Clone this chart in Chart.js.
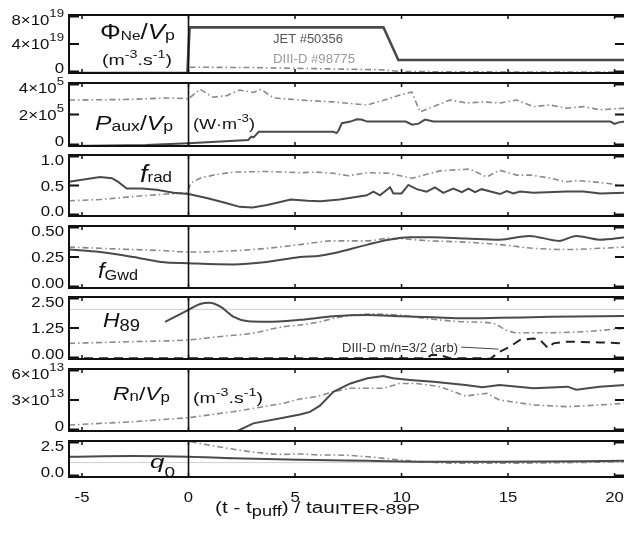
<!DOCTYPE html>
<html><head><meta charset="utf-8">
<script src="https://cdn.jsdelivr.net/npm/chart.js@4.4.0/dist/chart.umd.min.js"></script>
<style>
html,body{margin:0;padding:0;background:#fff;overflow:hidden;width:624px;height:540px;position:relative}
canvas{position:absolute;left:0}
</style></head><body>
<script>
// ================= DATA =================
const xTickValues = [-5, 0, 5, 10, 15, 20];
const xTickLabels = ['-5', '0', '5', '10', '15', '20'];

// Panel 1: Phi_Ne / Vp
const phiTicks = [0, 4e19, 8e19];
const phiTickLabels = ['0', '4×10^19', '8×10^19'];
const tPhiJet = [-5.61, -0.05, 0.05, 9.15, 9.85, 20.5];
const phiJet  = [0, 0, 6.3e19, 6.3e19, 1.8e19, 1.8e19];
const tPhiD3  = [0.05, 3, 6, 9, 10, 14, 20.5];
const phiD3   = [0.8e19, 0.75e19, 0.6e19, 0.45e19, 0.2e19, 0.15e19, 0.12e19];

// Panel 2: Paux / Vp
const pauxTicks = [0, 2e5, 4e5];
const pauxTickLabels = ['0', '2×10^5', '4×10^5'];
const tPauxJet = [-5.61, -2.0, 0, 2.8, 2.95, 3.05, 3.3, 6.8, 6.95, 7.05, 7.2, 7.6, 7.9, 8.1, 8.4, 10.2, 10.5, 10.8, 11.1, 11.5, 12, 19.8, 20.0, 20.2, 20.5];
const pauxJet  = [0.0, 0.07e5, 0.17e5, 0.38e5, 0.6e5, 0.55e5, 0.9e5, 0.9e5, 0.82e5, 1.0e5, 1.45e5, 1.55e5, 1.7e5, 1.68e5, 1.55e5, 1.55e5, 1.35e5, 1.42e5, 1.68e5, 1.55e5, 1.55e5, 1.55e5, 1.4e5, 1.5e5, 1.55e5];
const tPauxD3 = [-5.61, -3, -1, 0, 0.54, 1.16, 1.8, 2.4, 3.04, 3.4, 3.67, 4.0, 5.23, 6.8, 8.37, 9.15, 9.93, 10.48, 10.87, 11.49, 12.28, 13.06, 13.84, 14.62, 15.41, 16.19, 16.97, 17.76, 18.54, 19.32, 20.5];
const pauxD3  = [2.92e5, 2.95e5, 3.05e5, 3.0e5, 3.6e5, 3.1e5, 3.2e5, 3.55e5, 3.4e5, 3.6e5, 3.35e5, 3.05e5, 2.92e5, 2.8e5, 2.6e5, 2.9e5, 3.24e5, 3.43e5, 2.16e5, 2.5e5, 2.92e5, 2.73e5, 2.8e5, 2.73e5, 2.92e5, 2.5e5, 2.6e5, 2.4e5, 2.5e5, 2.3e5, 2.4e5];

// Panel 3: f_rad
const fradTicks = [0, 0.5, 1.0];
const fradTickLabels = ['0.0', '0.5', '1.0'];
const tFradJet = [-5.61, -4.15, -3.6, -3.3, -2.9, -2.2, -1.5, -0.7, 0, 0.9, 1.8, 2.4, 3.0, 3.7, 4.8, 5.6, 6.2, 7.1, 8.37, 8.68, 8.99, 9.46, 9.62, 10.0, 10.32, 10.71, 11.18, 11.57, 11.96, 12.43, 12.83, 13.14, 13.45, 13.76, 14.62, 14.94, 15.25, 15.56, 16.19, 17.76, 18.54, 19.32, 20.5];
const fradJet  = [0.56, 0.64, 0.62, 0.56, 0.45, 0.45, 0.43, 0.38, 0.36, 0.29, 0.21, 0.15, 0.14, 0.18, 0.27, 0.25, 0.24, 0.27, 0.34, 0.40, 0.34, 0.47, 0.37, 0.37, 0.51, 0.44, 0.40, 0.47, 0.38, 0.45, 0.39, 0.45, 0.39, 0.44, 0.36, 0.41, 0.37, 0.40, 0.38, 0.40, 0.40, 0.37, 0.38];
const tFradD3 = [-5.61, -4.15, -2.59, -1.02, -0.05, 0.1, 0.54, 1.16, 2.1, 3.67, 5.23, 6.0, 6.8, 7.5, 8.4, 9.4, 10.5, 11.8, 13.2, 14.0, 14.6, 15.4, 16.1, 17.0, 17.7, 18.3, 19.3, 20.2];
const fradD3  = [0.25, 0.27, 0.32, 0.36, 0.38, 0.54, 0.62, 0.67, 0.72, 0.73, 0.71, 0.72, 0.70, 0.66, 0.71, 0.70, 0.62, 0.74, 0.77, 0.64, 0.75, 0.67, 0.67, 0.62, 0.56, 0.58, 0.55, 0.51];

// Panel 4: f_Gwd
const fgwTicks = [0, 0.25, 0.5];
const fgwTickLabels = ['0.00', '0.25', '0.50'];
const tFgwJet = [-5.61, -4.15, -2.59, -1.3, 0, 2.1, 3.67, 5.23, 6.17, 6.8, 8.4, 9.4, 10.4, 11.4, 13.0, 14.6, 16.0, 17.4, 18.2, 19.3, 20.5];
const fgwJet  = [0.31, 0.29, 0.25, 0.21, 0.20, 0.19, 0.21, 0.25, 0.26, 0.28, 0.35, 0.39, 0.41, 0.41, 0.40, 0.39, 0.42, 0.38, 0.42, 0.39, 0.41];
const tFgwD3  = [-5.61, -4.15, -2.59, -1.02, 0, 2.1, 3.67, 5.23, 6.8, 8.4, 9.4, 11.4, 13.0, 14.6, 16.2, 17.8, 19.3, 20.5];
const fgwD3   = [0.33, 0.32, 0.31, 0.30, 0.29, 0.30, 0.32, 0.35, 0.38, 0.38, 0.40, 0.38, 0.37, 0.35, 0.32, 0.31, 0.32, 0.33];

// Panel 5: H89
const h89Ticks = [0, 1.25, 2.5];
const h89TickLabels = ['0.00', '1.25', '2.50'];
const tH89Jet = [-1.1, 0, 0.54, 1.0, 1.5, 2.1, 2.8, 3.67, 5.23, 6.8, 8.4, 10.0, 11.5, 13.0, 14.6, 17.0, 20.5];
const h89Jet  = [1.50, 1.98, 2.22, 2.27, 2.11, 1.71, 1.52, 1.50, 1.58, 1.72, 1.77, 1.72, 1.68, 1.64, 1.66, 1.70, 1.73];
const tH89D3  = [-5.61, -2.59, 0, 1.4, 3.0, 4.45, 5.23, 6.17, 6.8, 8.4, 9.9, 11.5, 13.0, 14.3, 14.9, 15.4, 16.9, 18.5, 20.5];
const h89D3   = [0.63, 0.70, 0.77, 0.90, 1.04, 1.30, 1.37, 1.50, 1.64, 1.81, 1.77, 1.60, 1.50, 1.44, 1.17, 1.06, 1.06, 1.10, 1.24];
const tMode   = [-5.61, 11.18, 11.4, 11.8, 12.28, 14.0, 14.15, 14.62, 15.09, 15.56, 16.19, 16.5, 16.89, 17.13, 17.76, 19.3, 20.5];
const modeD3  = [0.03, 0.03, 0.16, 0.16, 0.03, 0.03, 0.0, 0.30, 0.50, 0.77, 0.83, 0.77, 0.43, 0.63, 0.70, 0.67, 0.63];
const h89Ref  = 2.0;

// Panel 6: Rn / Vp
const rnTicks = [0, 3e13, 6e13];
const rnTickLabels = ['0', '3×10^13', '6×10^13'];
const tRnJet = [2.3, 3.04, 4.45, 5.23, 5.7, 6.17, 6.8, 7.6, 8.4, 9.15, 9.6, 10.4, 11.5, 13.0, 13.8, 14.6, 16.2, 17.8, 18.2, 19.3, 20.5];
const rnJet  = [0, 0.74e13, 1.29e13, 1.6e13, 1.85e13, 2.45e13, 3.8e13, 4.6e13, 5.1e13, 5.32e13, 5.1e13, 4.94e13, 4.77e13, 4.45e13, 4.23e13, 4.45e13, 4.13e13, 4.29e13, 4.0e13, 4.29e13, 4.45e13];
const tRnD3  = [-5.61, -2.59, 0, 2.1, 4.45, 5.23, 6.0, 6.8, 7.6, 9.15, 9.9, 10.7, 11.8, 13.0, 14.0, 14.6, 16.2, 17.8, 19.3, 20.5];
const rnD3   = [0.58e13, 0.9e13, 1.29e13, 1.87e13, 2.68e13, 3.1e13, 3.32e13, 3.8e13, 4.13e13, 4.13e13, 4.6e13, 4.6e13, 4.29e13, 3.39e13, 3.65e13, 3.0e13, 2.52e13, 2.35e13, 2.52e13, 2.68e13];

// Panel 7: q0
const q0Ticks = [0, 2.5];
const q0TickLabels = ['0.0', '2.5'];
const tQ0Jet = [-5.61, -2.59, 0, 2.1, 5.23, 8.4, 11.5, 14.6, 20.5];
const q0Jet  = [1.41, 1.46, 1.41, 1.30, 1.20, 1.13, 1.06, 1.06, 1.13];
const tQ0D3  = [0.1, 1.4, 2.9, 4.45, 5.23, 6.17, 6.8, 8.4, 9.9, 13.0, 16.2, 20.5];
const q0D3   = [2.45, 2.1, 1.76, 1.57, 1.6, 1.53, 1.53, 1.41, 1.18, 0.95, 0.97, 1.06];
const q0Ref  = 1.0;

// ================= LAYOUT / STYLE =================
const CW = 632, PLOT_L = 69, PLOT_R = 625, X_MIN = -5.61, X_MAX = 20.49;
const PAD = 22;
const FF = "'Liberation Sans', Arial, Helvetica, sans-serif";
const JET_C = '#4a4a4a', D3_C = '#8a8a8a';
const TICK_SX = 1.2;

const pts = (t, v) => t.map((x, i) => ({x, y: v[i]}));
const jetDs = (t, v, w, smooth) => ({data: pts(t, v), borderColor: JET_C, borderWidth: w || 2, pointRadius: 0, tension: 0, fill: false, cubicInterpolationMode: smooth ? 'monotone' : 'default'});
const d3Ds = (t, v, smooth) => ({data: pts(t, v), borderColor: D3_C, borderWidth: 1.6, borderDash: [6, 3, 1.5, 3], pointRadius: 0, tension: 0, fill: false, cubicInterpolationMode: smooth ? 'monotone' : 'default'});
const modeDs = (t, v) => ({data: pts(t, v), borderColor: '#222', borderWidth: 2, borderDash: [9, 6], pointRadius: 0, tension: 0, fill: false});

function fontOf(s) { return (s.i ? 'italic ' : '') + s.s + 'px ' + FF; }
function drawRich(ctx, x, y, segs, opt) {
  opt = opt || {};
  let nat = 0;
  segs.forEach(s => { ctx.font = fontOf(s); nat += ctx.measureText(s.t).width; });
  const sx = opt.w ? opt.w / nat : (opt.sx || 1);
  const total = nat * sx;
  let cx = opt.align === 'right' ? x - total : opt.align === 'center' ? x - total / 2 : x;
  segs.forEach(s => {
    ctx.save();
    ctx.font = fontOf(s);
    ctx.fillStyle = s.c || opt.c || '#111';
    ctx.textBaseline = 'alphabetic';
    ctx.textAlign = 'left';
    const w = ctx.measureText(s.t).width;
    ctx.translate(cx, y + (s.dy || 0));
    ctx.scale(sx, 1);
    ctx.fillText(s.t, 0, 0);
    ctx.restore();
    cx += w * sx;
  });
}
function tickSegs(label) {
  const p = label.split('^');
  const segs = [{t: p[0], s: 14}];
  if (p[1]) segs.push({t: p[1], s: 11, dy: -8});
  return segs;
}
const unitSegs = [{t: '(m', s: 15}, {t: '-3', s: 11, dy: -7}, {t: '.s', s: 15}, {t: '-1', s: 11, dy: -7}, {t: ')', s: 15}];

const panels = [
  {top: 15, bottom: 73, max: 8e19, ticks: phiTicks, labels: phiTickLabels,
   datasets: [jetDs(tPhiJet, phiJet, 2.6), d3Ds(tPhiD3, phiD3)],
   texts: [
     {x: 100, y: 39, w: 75, segs: [{t: 'Φ', s: 22}, {t: 'Ne', s: 13, dy: 1}, {t: '/', s: 22}, {t: 'V', s: 22, i: 1}, {t: 'p', s: 15, dy: 1}]},
     {x: 102, y: 65, w: 70, segs: unitSegs},
     {x: 273, y: 43, w: 70, c: '#555', segs: [{t: 'JET #50356', s: 12}]},
     {x: 273, y: 63, w: 82, c: '#9a9a9a', segs: [{t: 'DIII-D #98775', s: 12}]}
   ]},
  {top: 83, bottom: 146, max: 4e5, ticks: pauxTicks, labels: pauxTickLabels,
   datasets: [jetDs(tPauxJet, pauxJet), d3Ds(tPauxD3, pauxD3)],
   texts: [
     {x: 95, y: 130, w: 78, segs: [{t: 'P', s: 21, i: 1}, {t: 'aux', s: 15, dy: 1}, {t: '/', s: 21}, {t: 'V', s: 21, i: 1}, {t: 'p', s: 15, dy: 1}]},
     {x: 193, y: 129, w: 62, segs: [{t: '(W·m', s: 15}, {t: '-3', s: 11, dy: -7}, {t: ')', s: 15}]}
   ]},
  {top: 155, bottom: 216, max: 1.0, ticks: fradTicks, labels: fradTickLabels,
   datasets: [jetDs(tFradJet, fradJet), d3Ds(tFradD3, fradD3)],
   texts: [{x: 140, y: 182, w: 32, segs: [{t: 'f', s: 24, i: 1}, {t: 'rad', s: 15}]}]},
  {top: 226, bottom: 288, max: 0.5, ticks: fgwTicks, labels: fgwTickLabels,
   datasets: [jetDs(tFgwJet, fgwJet, 2, true), d3Ds(tFgwD3, fgwD3, true)],
   texts: [{x: 98, y: 278, w: 40, segs: [{t: 'f', s: 22, i: 1}, {t: 'Gwd', s: 15, dy: 2}]}]},
  {top: 297, bottom: 359, max: 2.5, ticks: h89Ticks, labels: h89TickLabels, ref: h89Ref,
   datasets: [jetDs(tH89Jet, h89Jet, 2, true), d3Ds(tH89D3, h89D3, true), modeDs(tMode, modeD3)],
   texts: [
     {x: 103, y: 327, w: 37, segs: [{t: 'H', s: 20, i: 1}, {t: '89', s: 16, dy: 4}]},
     {x: 342, y: 352, w: 116, c: '#333', segs: [{t: 'DIII-D m/n=3/2 (arb)', s: 12.5}]}
   ],
   leader: [[12.8, 0.48], [14.55, 0.40]]},
  {top: 369, bottom: 431, max: 6e13, ticks: rnTicks, labels: rnTickLabels,
   datasets: [jetDs(tRnJet, rnJet), d3Ds(tRnD3, rnD3)],
   texts: [
     {x: 113, y: 400, w: 57, segs: [{t: 'R', s: 19, i: 1}, {t: 'n', s: 14, dy: 1}, {t: '/', s: 19}, {t: 'V', s: 19, i: 1}, {t: 'p', s: 14, dy: 2}]},
     {x: 193, y: 403, w: 70, segs: unitSegs}
   ]},
  {top: 441, bottom: 477, max: 2.5, ticks: q0Ticks, labels: q0TickLabels, ref: q0Ref, last: true,
   datasets: [jetDs(tQ0Jet, q0Jet, 2, true), d3Ds(tQ0D3, q0D3, true)],
   texts: [{x: 150, y: 468, w: 25, segs: [{t: 'q', s: 19, i: 1}, {t: '0', s: 14, dy: 9}]}]}
];

function makePanel(p) {
  const cv = document.createElement('canvas');
  const padB = p.last ? (540 - p.bottom) : PAD;
  const h = (p.bottom - p.top) + PAD + padB;
  cv.width = CW; cv.height = h;
  cv.style.width = CW + 'px'; cv.style.height = h + 'px';
  cv.style.top = (p.top - PAD) + 'px';
  document.body.appendChild(cv);
  const deco = {
    id: 'deco',
    beforeDatasetsDraw(chart) {
      if (p.ref === undefined) return;
      const ctx = chart.ctx, a = chart.chartArea, ys = chart.scales.y;
      const py = ys.getPixelForValue(p.ref);
      ctx.save(); ctx.strokeStyle = '#cfcfcf'; ctx.lineWidth = 1;
      ctx.beginPath(); ctx.moveTo(a.left, py); ctx.lineTo(a.right, py); ctx.stroke(); ctx.restore();
    },
    afterDatasetsDraw(chart) {
      const ctx = chart.ctx, a = chart.chartArea, xs = chart.scales.x, ys = chart.scales.y;
      ctx.save();
      ctx.strokeStyle = '#111';
      ctx.lineWidth = 2;
      ctx.strokeRect(a.left, a.top, a.right - a.left, a.bottom - a.top);
      const x0 = xs.getPixelForValue(0);
      ctx.lineWidth = 1.6;
      ctx.beginPath(); ctx.moveTo(x0, a.top); ctx.lineTo(x0, a.bottom); ctx.stroke();
      ctx.lineWidth = 2;
      p.ticks.forEach((v, i) => {
        let py = ys.getPixelForValue(v);
        if (i === 0) py -= 1.5; else if (i === p.ticks.length - 1) py += 1.5;
        ctx.beginPath(); ctx.moveTo(a.left, py); ctx.lineTo(a.left + 10, py);
        ctx.moveTo(a.right - 10, py); ctx.lineTo(a.right, py); ctx.stroke();
      });
      ctx.lineWidth = 1.5;
      xTickValues.forEach(v => {
        const px = xs.getPixelForValue(v);
        ctx.beginPath(); ctx.moveTo(px, a.top); ctx.lineTo(px, a.top + 4);
        ctx.moveTo(px, a.bottom); ctx.lineTo(px, a.bottom - 4); ctx.stroke();
      });
      if (p.leader) {
        ctx.strokeStyle = '#444'; ctx.lineWidth = 1;
        ctx.beginPath();
        ctx.moveTo(xs.getPixelForValue(p.leader[0][0]), ys.getPixelForValue(p.leader[0][1]));
        ctx.lineTo(xs.getPixelForValue(p.leader[1][0]), ys.getPixelForValue(p.leader[1][1]));
        ctx.stroke();
      }
      ctx.restore();
      p.ticks.forEach((v, i) => {
        let cy = ys.getPixelForValue(v);
        if (i === 0) cy -= 5; else if (i === p.ticks.length - 1) cy += 5;
        drawRich(ctx, 64, cy + 5, tickSegs(p.labels[i]), {align: 'right', sx: TICK_SX});
      });
      const off = p.top - PAD;
      p.texts.forEach(t => drawRich(ctx, t.x, t.y - off, t.segs, {w: t.w, c: t.c}));
      if (p.last) {
        xTickValues.forEach((v, i) => {
          drawRich(ctx, xs.getPixelForValue(v), 502 - off, [{t: xTickLabels[i], s: 14.5}], {align: 'center', sx: 1.15});
        });
        drawRich(ctx, 215, 513 - off, [{t: '(t - t', s: 16}, {t: 'puff', s: 14, dy: 3}, {t: ') / tau', s: 16}, {t: 'ITER-89P', s: 15, dy: 1}], {w: 205});
      }
    }
  };
  new Chart(cv, {
    type: 'line',
    data: {datasets: p.datasets},
    options: {
      responsive: false, animation: false, devicePixelRatio: 1,
      layout: {padding: {left: PLOT_L, right: CW - PLOT_R, top: PAD, bottom: padB}},
      plugins: {legend: {display: false}, tooltip: {enabled: false}},
      scales: {
        x: {type: 'linear', min: X_MIN, max: X_MAX, display: false},
        y: {type: 'linear', min: 0, max: p.max, display: false}
      },
      elements: {point: {radius: 0}, line: {tension: 0}}
    },
    plugins: [deco]
  });
}
panels.forEach(makePanel);
</script>
</body></html>
